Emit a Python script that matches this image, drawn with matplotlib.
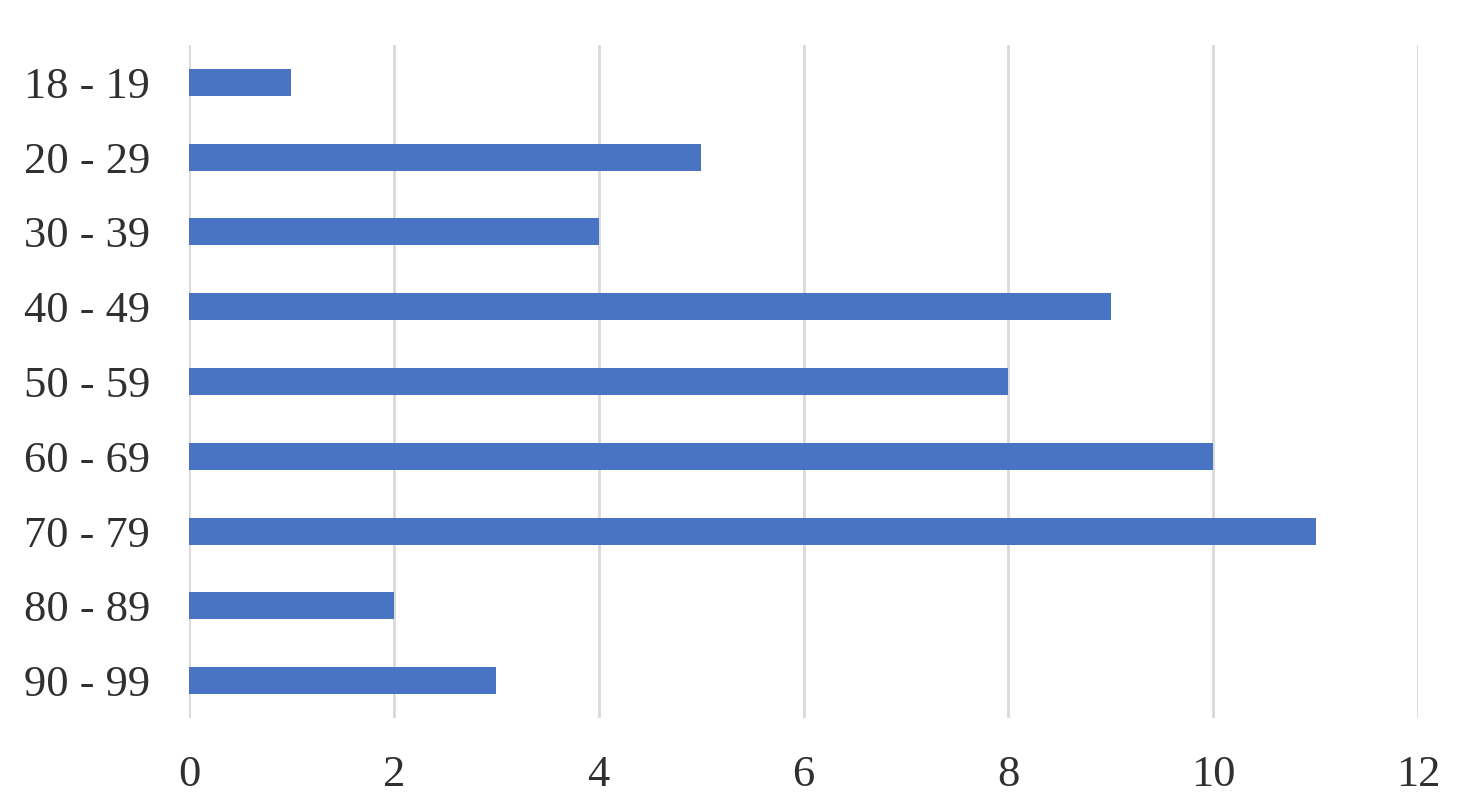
import matplotlib.pyplot as plt

# age groups and counts
age_groups = ["18 - 19", "20 - 29", "30 - 39", "40 - 49", "50 - 59",
              "60 - 69", "70 - 79", "80 - 89", "90 - 99"]
counts = [1, 5, 4, 9, 8, 10, 11, 2, 3]
x_ticks = [0, 2, 4, 6, 8, 10, 12]

plt.rcParams['font.family'] = ['Liberation Serif', 'DejaVu Serif']

fig = plt.figure(figsize=(14.65, 8), dpi=100)
ax = fig.add_axes([189/1465, 1 - 718/800, (1418 - 189)/1465, (718 - 45)/800])

ax.barh(range(len(age_groups)), counts, height=0.36, color='#4874C3', zorder=3)

ax.set_xlim(0, 12)
ax.set_ylim(len(age_groups) - 0.5, -0.5)
ax.set_xticks(x_ticks)
ax.set_yticks(range(len(age_groups)))
ax.set_yticklabels(age_groups)

ax.grid(True, axis='x', color='#d9d9d9', linewidth=2)
ax.set_axisbelow(True)
for s in ax.spines.values():
    s.set_visible(False)
ax.tick_params(axis='both', length=0, labelsize=32, colors='#303030')
ax.tick_params(axis='y', pad=28)
ax.tick_params(axis='x', pad=27)

fig.savefig("out.png", dpi=100)
